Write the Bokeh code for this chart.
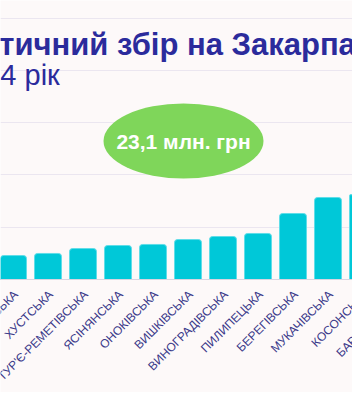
from bokeh.plotting import figure
from bokeh.models import Range1d, FixedTicker, Span, ColumnDataSource
from bokeh.core.properties import value
from bokeh.embed import file_html
from bokeh.resources import INLINE

# ---- data ----
TITLE = "Туристичний збір на Закарпатті"
SUBTITLE = "за 2024 рік"
TOTAL_LABEL = "23,1 млн. грн"
COMMUNITIES = ["ТЯЧІВСЬКА", "ХУСТСЬКА", "ТУР'Є-РЕМЕТІВСЬКА", "ЯСІНЯНСЬКА",
               "ОНОКІВСЬКА", "ВИШКІВСЬКА", "ВИНОГРАДІВСЬКА", "ПИЛИПЕЦЬКА",
               "БЕРЕГІВСЬКА", "МУКАЧІВСЬКА", "КОСОНСЬКА", "БАРАНИНСЬКА"]
AMOUNTS = [229, 249, 296, 325, 335, 382, 411, 440, 631, 784, 813, 900]  # тис. грн
GRID_TICKS = [0, 500, 1000, 1500, 2000, 2500]

# ---- layout constants ----
W, H = 352, 392
PX_PER_X = 35.0          # pixels per category
PX_PER_Y = 52.3 / 500.0  # pixels per unit
XS = -12.5 / PX_PER_X
YE = 279 / PX_PER_Y

def dx(px):
    return XS + px / PX_PER_X

def dy(py):
    return YE - py / PX_PER_Y

BG = "#fdf9f9"
FONT = "Liberation Sans"

p = figure(width=W, height=H, output_backend="svg", toolbar_location=None,
           x_range=Range1d(XS, dx(W)), y_range=Range1d(dy(H), YE),
           min_border_left=0, min_border_right=0, min_border_top=0, min_border_bottom=0)
p.background_fill_color = BG
p.border_fill_color = BG
p.outline_line_color = None
p.xaxis.visible = False
p.yaxis.visible = False
p.xgrid.visible = False
p.yaxis.ticker = FixedTicker(ticks=GRID_TICKS)
p.ygrid.ticker = FixedTicker(ticks=GRID_TICKS[1:])
p.ygrid.grid_line_color = "#ebe6f0"
p.ygrid.grid_line_width = 1

idx = list(range(len(COMMUNITIES)))
src = ColumnDataSource(dict(x=idx, top=AMOUNTS, name=COMMUNITIES))

p.vbar(x="x", top="top", width=0.77, bottom=0, source=src,
       fill_color="#00c8d8", line_color="#5fdde8", line_width=1,
       border_radius=(3, 3, 0, 0))

p.add_layout(Span(location=0, dimension="width", line_color="#d9d5e0", line_width=1))

# category labels
p.text(x="x", y=dy(287), text="name", source=src, angle=45, angle_units="deg",
       x_offset=-2, text_align="right", text_baseline="top",
       text_font=value(FONT), text_font_size=value("12px"), text_color="#3b3a8a")

# title
p.text(x=[dx(-91)], y=[dy(44)], text=[TITLE], text_align="left",
       text_baseline="alphabetic", text_font=value(FONT),
       text_font_size=value("31px"), text_font_style="bold", text_color="#2b2b9c")
p.text(x=[dx(-86)], y=[dy(74)], text=[SUBTITLE], text_align="left",
       text_baseline="alphabetic", text_font=value(FONT),
       text_font_size=value("29px"), text_color="#2b2b9c")

# total badge
p.ellipse(x=[dx(183)], y=[dy(140.5)], width=160, height=75,
          width_units="screen", height_units="screen",
          fill_color="#7fd65a", line_color=None)
p.text(x=[dx(183)], y=[dy(141)], text=[TOTAL_LABEL], text_align="center",
       text_baseline="middle", text_font=value(FONT),
       text_font_size=value("21px"), text_font_style="bold", text_color="white")

open("out.html", "w").write(file_html(p, INLINE))
